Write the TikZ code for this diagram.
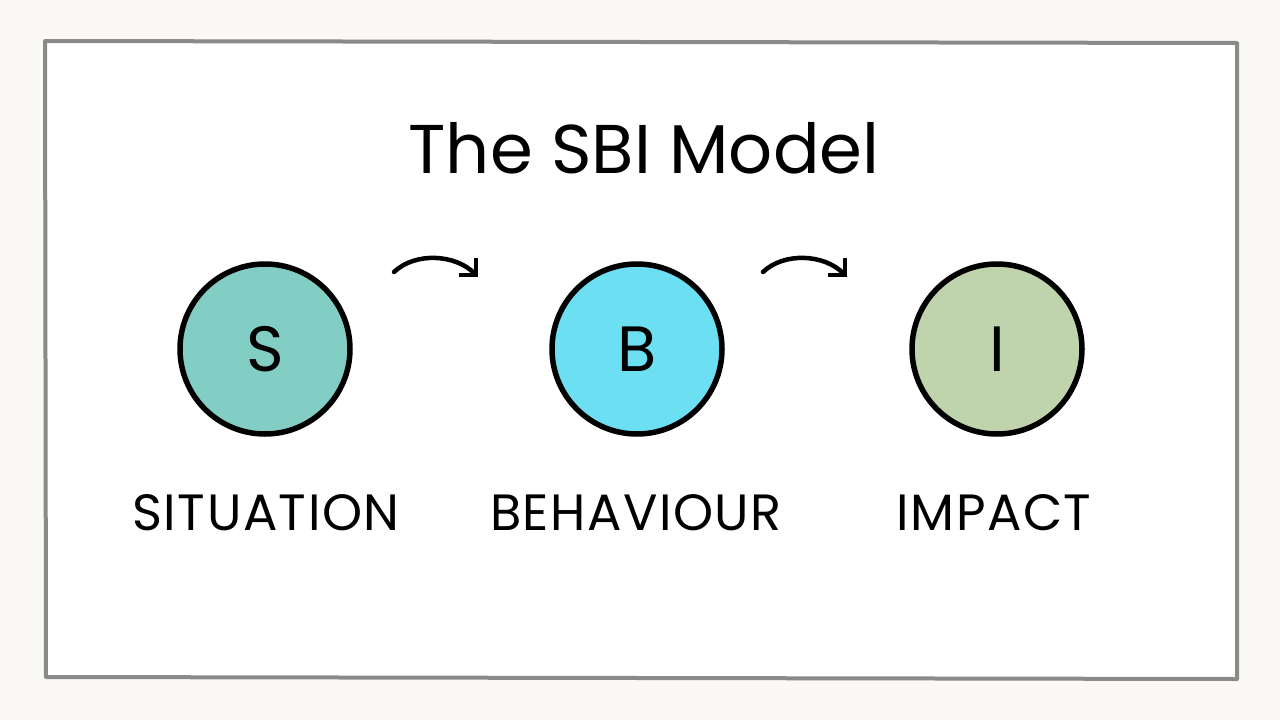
\documentclass[tikz,border=0pt]{standalone}
\usepackage{fontspec}
\setmainfont{Poppins}
\newfontfamily\lblfont[LetterSpace=3]{Poppins}
\usetikzlibrary{arrows.meta}
\definecolor{bgpaper}{HTML}{FAF9F6}
\definecolor{framegrey}{HTML}{8A8A8A}
\definecolor{colS}{HTML}{82CEC5}
\definecolor{colB}{HTML}{6DDFF2}
\definecolor{colI}{HTML}{BFD3AC}
\tikzset{
  bubble/.style={circle, draw=black, line width=5.5pt, minimum size=170pt, inner sep=0pt, font=\fontsize{64}{70}\selectfont},
  lbl/.style={font=\lblfont\fontsize{51}{58}\selectfont, inner sep=0pt},
  flow/.style={line width=4.5pt, line cap=round, -{Straight Barb[length=12pt,width=24pt,line width=4.5pt]}}
}
\begin{document}
\begin{tikzpicture}[x=1pt,y=-1pt]
\useasboundingbox (0,0) rectangle (1280,720);
\fill[bgpaper] (0,0) rectangle (1280,720);
\filldraw[fill=white, draw=framegrey, line width=4pt, line join=round] (45,41) -- (1237,43) -- (1237,679) -- (46,677) -- cycle;
\node[inner sep=0pt, font=\fontsize{69}{76}\selectfont] (title) at (644,148) {The SBI Model};
\node[bubble, fill=colS] (s) at (265,349) {S};
\node[bubble, fill=colB] (b) at (637,349) {B};
\node[bubble, fill=colI] (i) at (997,349) {I};
\node[lbl] (ls) at (266,513) {SITUATION};
\node[lbl] (lb) at (636,513) {BEHAVIOUR};
\node[lbl] (li) at (994,513) {IMPACT};
\coordinate (a1s) at (394,272);
\coordinate (a1e) at (478,277);
\coordinate (a2s) at (763,272);
\coordinate (a2e) at (847,277);
\draw[flow] (a1s) .. controls (415,252) and (455,254) .. (a1e);
\draw[flow] (a2s) .. controls (784,252) and (824,254) .. (a2e);
\end{tikzpicture}
\end{document}
